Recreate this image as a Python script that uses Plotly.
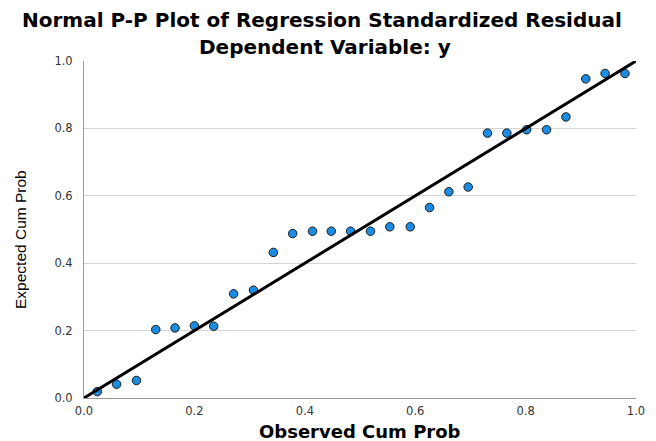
import plotly.graph_objects as go

observed = [0.024, 0.059, 0.095, 0.130, 0.165, 0.200, 0.235, 0.271, 0.307, 0.343,
            0.378, 0.414, 0.448, 0.483, 0.519, 0.554, 0.591, 0.626, 0.661, 0.696,
            0.731, 0.766, 0.802, 0.838, 0.873, 0.909, 0.944, 0.980]
expected = [0.019, 0.041, 0.052, 0.203, 0.208, 0.214, 0.213, 0.309, 0.320, 0.432,
            0.488, 0.495, 0.495, 0.495, 0.495, 0.508, 0.508, 0.565, 0.612, 0.626,
            0.786, 0.786, 0.796, 0.796, 0.834, 0.947, 0.963, 0.963]
ref_line = [0.0, 1.0]
tick_vals = [0.0, 0.2, 0.4, 0.6, 0.8, 1.0]
tick_text = ["0.0", "0.2", "0.4", "0.6", "0.8", "1.0"]

TITLE_FONT = "DejaVu Sans, Verdana, sans-serif"

fig = go.Figure()
fig.add_trace(go.Scatter(
    x=observed, y=expected, mode="markers",
    marker=dict(symbol="circle", size=8.5, color="#1a8ce3",
                line=dict(color="#1b1b1b", width=1)),
    showlegend=False, cliponaxis=False))
fig.add_trace(go.Scatter(
    x=ref_line, y=ref_line, mode="lines",
    line=dict(color="black", width=3), showlegend=False, cliponaxis=False))

fig.update_layout(
    width=648, height=433,
    margin=dict(l=76, r=11, t=53, b=43),
    paper_bgcolor="white", plot_bgcolor="white",
    font=dict(family="Liberation Sans, Arial, sans-serif", color="black"),
    annotations=[
        dict(text="<b>Normal P-P Plot of Regression Standardized Residual</b>",
             xref="paper", yref="paper", x=0.432, y=1, yshift=41,
             xanchor="center", yanchor="middle", showarrow=False,
             font=dict(size=20, color="black", family=TITLE_FONT)),
        dict(text="<b>Dependent Variable: y</b>",
             xref="paper", yref="paper", x=0.437, y=1, yshift=14,
             xanchor="center", yanchor="middle", showarrow=False,
             font=dict(size=20, color="black", family=TITLE_FONT)),
        dict(text="<b>Observed Cum Prob</b>",
             xref="paper", yref="paper", x=0.5, y=0, yshift=-33,
             xanchor="center", yanchor="middle", showarrow=False,
             font=dict(size=18, color="black", family=TITLE_FONT)),
        dict(text="Expected Cum Prob", textangle=-90,
             xref="paper", yref="paper", x=0, y=0.5, xshift=-64, yshift=-10.5,
             xanchor="center", yanchor="middle", showarrow=False,
             font=dict(size=15.5, color="black",
                       family="Liberation Sans Narrow, Arial Narrow, Liberation Sans, sans-serif")),
    ],
    xaxis=dict(range=[0, 1], tickvals=tick_vals, ticktext=tick_text,
               showgrid=False, zeroline=False, showline=True,
               linecolor="#9a9a9a", linewidth=1, ticks="",
               tickfont=dict(size=11.5, color="#333333", family=TITLE_FONT),
               ticklabelstandoff=2),
    yaxis=dict(range=[0, 1], tickvals=tick_vals, ticktext=tick_text,
               showgrid=True, gridcolor="#d4d4d4", gridwidth=1,
               zeroline=False, showline=True,
               linecolor="#9a9a9a", linewidth=1, ticks="",
               tickfont=dict(size=11.5, color="#333333", family=TITLE_FONT),
               ticklabelstandoff=8),
)

fig.write_html("out.html")
